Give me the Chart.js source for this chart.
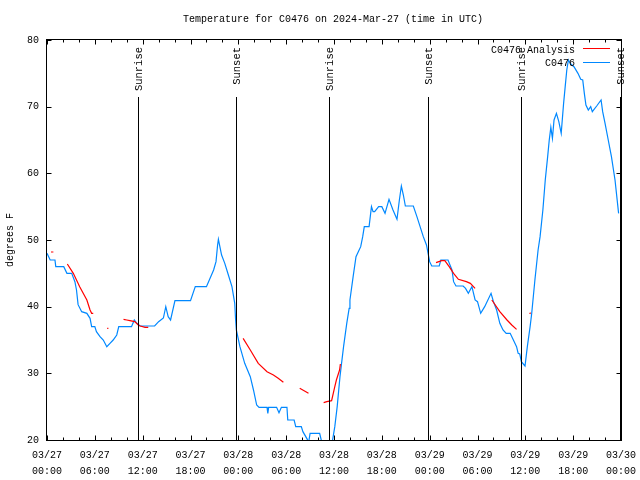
<!DOCTYPE html>
<html>
<head>
<meta charset="utf-8">
<script src="https://cdn.jsdelivr.net/npm/chart.js@4"></script>
<style>
html,body{margin:0;padding:0;background:#fff;}
canvas{display:block;}
</style>
</head>
<body>
<canvas id="c" width="640" height="480"></canvas>
<script>
// ---- data (x in hours since 2024-03-27 00:00 UTC) ----
const obsHours = [0,0.4,1.0,1.1,2.1,2.5,3.1,3.5,3.7,3.9,4.35,5.0,5.4,5.6,6.0,6.2,6.65,7.06,7.5,7.9,8.3,8.75,9.0,10.6,10.95,11.2,11.67,13.5,14.0,14.6,14.9,15.2,15.5,16.05,18.0,18.6,20.0,20.9,21.2,21.4,21.5,21.9,22.3,22.75,23.2,23.55,23.65,23.75,24.2,24.8,25.5,25.9,26.3,26.6,27.6,27.7,27.8,28.8,29.1,29.4,30.1,30.2,31.0,31.2,31.9,32.1,32.65,32.8,33.0,34.2,34.5,35.0,35.8,36.1,36.4,36.75,37.2,37.6,37.9,38.0,38.4,38.76,39.05,39.35,39.6,39.8,40.4,40.7,40.9,41.1,41.6,42.0,42.4,42.9,43.4,43.9,44.2,44.45,44.7,44.95,45.95,46.4,46.8,47.2,47.6,47.8,48.0,48.26,49.2,49.4,50.3,50.8,51.0,51.3,52.2,52.5,52.85,53.3,53.7,54.0,54.4,54.9,55.7,56.0,56.4,56.8,57.2,57.6,58.1,58.5,58.9,59.1,59.3,59.5,59.96,60.25,60.6,60.8,61.2,61.6,61.85,62.2,62.5,62.8,63.0,63.2,63.4,63.6,63.9,64.2,64.5,64.8,65.0,65.2,65.4,65.7,66.1,66.6,66.95,67.2,67.4,67.6,67.9,68.2,68.4,68.95,69.5,69.7,70.0,70.4,70.8,71.25,71.7];
const obsTemps = [48,47,47,46,46,45,45,43.75,42.5,40.3,39.25,39,38.25,37,37,36.25,35.5,35,34,34.5,35,35.75,37,37,38,37.6,37.1,37.1,37.75,38.3,40,38.5,38,40.9,40.9,43,43,45.5,46.75,49.25,50.1,47.75,46.5,44.75,43,40.5,38.2,36.5,34,31.5,29.5,27.5,25.25,24.9,24.9,24,24.9,24.9,24.1,24.9,24.9,23,23,22,22,21.25,20.1,19.5,21,21,19.5,19,19.8,22,25,29.5,34,37.5,39.75,41,44.5,47.5,48.25,49,50.5,52,52,55,54.25,54.25,55,55,54,56.1,54.5,53.1,56,58.1,56.75,55.1,55.1,53.5,52,50.5,49.25,48,46.75,46.1,46.1,47,47,45.5,43.75,43.1,43.1,42.75,42,43,41,40.75,39,40,42,40.75,39.5,37.5,36.5,36,36,35,34,33,32.9,31.75,31.1,34,37,39,44,48.5,50.5,54.5,59,62.5,65,66.9,65.25,68,69,67.75,66,70.5,73,75.5,77,76.4,76,75,74.1,74,72,70.25,69.5,70,69.25,70.1,71,69.25,67.5,65,62.5,59,54];
const anaHours = [0.5,0.8,1.5,2.55,3.3,4.1,5.0,5.4,5.6,5.8,6.5,7.55,7.7,8.5,9.6,10.0,10.4,11.0,11.45,11.7,12.3,12.7,18,24.6,25.5,26.5,27.6,28.4,29.0,29.65,30.5,31.7,32.8,33.5,34.7,35.1,35.7,36.1,36.3,36.7,36.8,42,48.8,49.5,49.9,50.45,51.0,51.6,52.6,53.1,53.7,54.5,55.8,56.8,57.7,58.3,58.9,59.7,60.55,60.65];
const anaTemps = [48.2,48.2,null,46.4,45,43,41,39.5,39,39,null,36.75,36.75,null,38.1,38,37.9,37.75,37.25,37.1,36.9,36.9,null,35.25,33.5,31.5,30.25,29.75,29.25,28.65,null,27.75,27,null,25.6,25.75,25.9,28,29,30.5,31.4,null,46.6,46.9,46.9,46,45,44.1,43.75,43.5,42.75,null,41,39.25,38,37.25,36.6,null,38.9,39.1];
const sunHours = [11.4, 23.7, 35.4, 47.8, 59.5, 71.9];
const sunLabels = ["Sunrise","Sunset","Sunrise","Sunset","Sunrise","Sunset"];
const tickDates = ["03/27","03/27","03/27","03/27","03/28","03/28","03/28","03/28","03/29","03/29","03/29","03/29","03/30"];
const tickTimes = ["00:00","06:00","12:00","18:00","00:00","06:00","12:00","18:00","00:00","06:00","12:00","18:00","00:00"];
const seriesNames = ["C0476 Analysis","C0476"];
const titleText = "Temperature for C0476 on 2024-Mar-27 (time in UTC)";
const yTitle = "degrees F";

const FONT = "'Liberation Mono','DejaVu Sans Mono',monospace";
const RED = "#ff0000";
const BLUE = "#0088ff";

const obsData = obsHours.map((h,i)=>({x:h,y:obsTemps[i]}));
const anaData = anaHours.map((h,i)=>({x:h,y:anaTemps[i]}));

const decor = {
  id:'decor',
  afterDatasetsDraw(chart){
    const ctx = chart.ctx, a = chart.chartArea;
    const xs = chart.scales.x, ys = chart.scales.y;
    ctx.save();
    ctx.strokeStyle = '#000'; ctx.lineWidth = 1;
    const L = Math.round(a.left)-0.5, R = Math.round(a.right)+0.5, T = Math.round(a.top)-0.5, B = Math.round(a.bottom)+0.5;
    // sun lines
    ctx.font = "10.5px " + FONT; ctx.fillStyle = '#000';
    sunHours.forEach((h,i)=>{
      const x = Math.round(xs.getPixelForValue(h))+0.5;
      ctx.beginPath(); ctx.moveTo(x, a.top+57); ctx.lineTo(x, B); ctx.stroke();
      ctx.save(); ctx.translate(x+0.5, a.top+7); ctx.rotate(-Math.PI/2);
      ctx.textAlign='right'; ctx.textBaseline='middle'; ctx.fillText(sunLabels[i],0,0); ctx.restore();
    });
    ctx.font = "10px " + FONT;
    // border
    ctx.strokeRect(L, T, R-L, B-T);
    // ticks
    ctx.beginPath();
    for (let h = xs.min; h <= xs.max; h += 2) {
      const x = Math.round(xs.getPixelForValue(h))+0.5;
      const len = (h % 6 === 0) ? 5 : 3;
      ctx.moveTo(x, B); ctx.lineTo(x, B-len);
      ctx.moveTo(x, T); ctx.lineTo(x, T+len);
    }
    for (let v = ys.min; v <= ys.max; v += 10) {
      const y = Math.round(ys.getPixelForValue(v))+0.5;
      ctx.moveTo(L, y); ctx.lineTo(L+5, y);
      ctx.moveTo(R, y); ctx.lineTo(R-5, y);
    }
    ctx.stroke();
    // title
    ctx.textAlign='center'; ctx.textBaseline='middle';
    ctx.fillText(titleText, 333, 19);
    // legend
    ctx.textAlign='right';
    ctx.fillText(seriesNames[0], 575, 50);
    ctx.fillText(seriesNames[1], 575, 63);
    ctx.strokeStyle = RED; ctx.beginPath(); ctx.moveTo(583, 48.5); ctx.lineTo(610, 48.5); ctx.stroke();
    ctx.strokeStyle = BLUE; ctx.beginPath(); ctx.moveTo(583, 62.5); ctx.lineTo(610, 62.5); ctx.stroke();
    ctx.restore();
  }
};

new Chart(document.getElementById('c'), {
  type: 'line',
  data: {
    datasets: [
      {label: seriesNames[0], data: anaData, borderColor: RED, borderWidth: 1.2, pointRadius: 0, spanGaps: false, tension: 0},
      {label: seriesNames[1], data: obsData, borderColor: BLUE, borderWidth: 1.2, pointRadius: 0, tension: 0}
    ]
  },
  options: {
    responsive: false,
    animation: false,
    devicePixelRatio: 1,
    layout: {padding: {left: 0, right: 19, top: 40, bottom: 0}},
    plugins: {legend: {display: false}, tooltip: {enabled: false}},
    scales: {
      x: {
        type: 'linear', min: 0, max: 72,
        grid: {display: false, drawTicks: false},
        border: {display: false},
        ticks: {
          stepSize: 6, padding: 7, maxRotation: 0, autoSkip: false, color: '#000',
          font: {family: FONT, size: 10, lineHeight: 1.6},
          callback: (v) => { const i = Math.round(v/6); return [tickDates[i], tickTimes[i]]; }
        },
        afterFit: (s) => { s.height = 40; s.paddingLeft = 0; s.paddingRight = 0; }
      },
      y: {
        min: 20, max: 80,
        grid: {display: false, drawTicks: false},
        border: {display: false},
        ticks: {stepSize: 10, padding: 8, color: '#000', font: {family: FONT, size: 10}},
        title: {display: true, text: yTitle, color: '#000', font: {family: FONT, size: 10}, padding: {top: 4, bottom: 0}},
        afterFit: (s) => { s.width = 47; s.paddingTop = 0; s.paddingBottom = 0; }
      }
    }
  },
  plugins: [decor]
});
</script>
</body>
</html>
